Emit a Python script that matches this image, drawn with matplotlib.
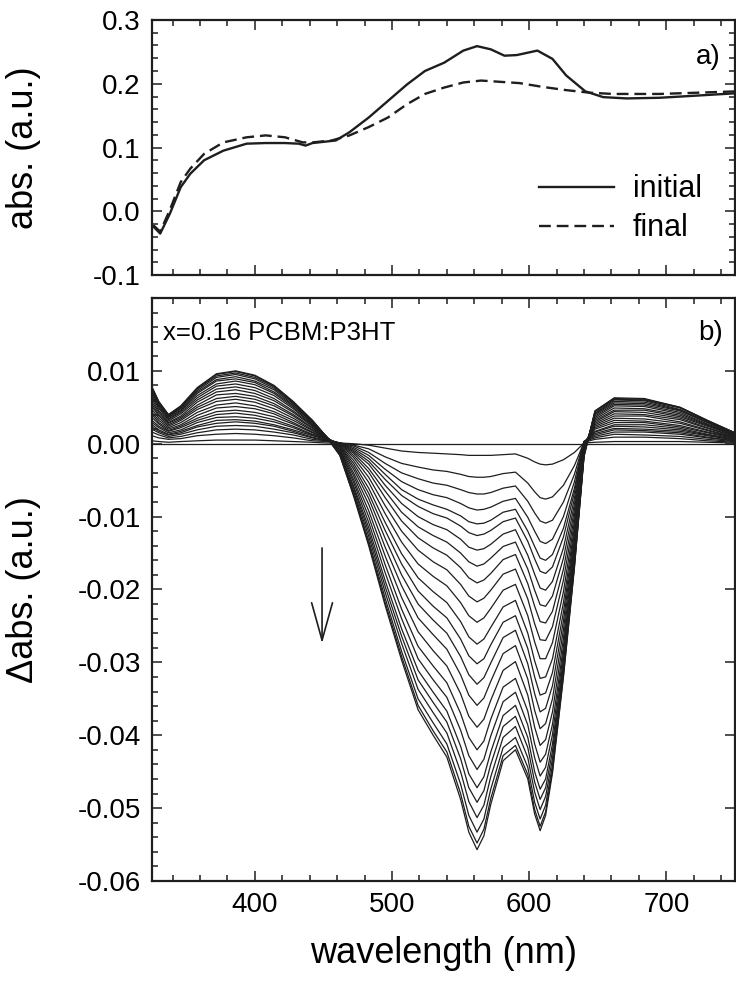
import numpy as np
import matplotlib.pyplot as plt
from matplotlib.ticker import MultipleLocator, FormatStrFormatter
from matplotlib.patches import FancyArrowPatch

plt.rcParams['font.family'] = ['Liberation Sans', 'DejaVu Sans']
plt.rcParams['axes.unicode_minus'] = False

# a) absorbance of the film, before and after
wl_init = [326, 331, 338, 346, 353, 363, 377, 394, 408, 422, 432, 437, 442, 459, 469,
           483, 497, 511, 524, 538, 552, 562, 572, 582, 591, 606, 617, 627, 641, 654,
           671, 695, 719, 750]
abs_init = [-0.024, -0.035, -0.004, 0.038, 0.059, 0.080, 0.095, 0.106, 0.107, 0.107,
            0.106, 0.103, 0.107, 0.111, 0.124, 0.147, 0.173, 0.199, 0.220, 0.233,
            0.252, 0.259, 0.254, 0.244, 0.245, 0.252, 0.239, 0.213, 0.188, 0.179,
            0.177, 0.178, 0.181, 0.185]
wl_final = [326, 331, 338, 346, 353, 363, 377, 394, 408, 422, 435, 442, 456, 469, 483,
            497, 511, 524, 538, 552, 565, 579, 593, 610, 627, 644, 661, 695, 723, 750]
abs_final = [-0.022, -0.032, 0.002, 0.046, 0.067, 0.090, 0.108, 0.116, 0.119, 0.116,
             0.108, 0.108, 0.111, 0.119, 0.132, 0.147, 0.168, 0.184, 0.194, 0.202,
             0.205, 0.203, 0.201, 0.195, 0.190, 0.186, 0.184, 0.184, 0.186, 0.188]

# b) difference spectra, one row per wavelength, one column per scan (in 1e-3)
wl_diff = [325, 330, 337, 346, 358, 372, 386, 400, 414, 428, 442, 452, 462, 472, 483,
           495, 507, 519, 530, 540, 550, 556, 562, 567, 572, 581, 590, 599, 604, 608,
           612, 617, 625, 633, 640, 648, 662, 684, 710, 730, 750]
dabs_mabs = [
    [0.4, 1.1, 1.6, 2.0, 2.3, 2.6, 2.9, 3.2, 3.6, 4.0, 4.3, 4.7, 5.1, 5.4, 5.7, 6.1, 6.4, 6.7, 7.0, 7.2, 7.4, 7.6, 7.7, 7.8],
    [0.3, 0.8, 1.2, 1.5, 1.7, 1.9, 2.2, 2.4, 2.7, 2.9, 3.2, 3.5, 3.8, 4.0, 4.3, 4.5, 4.8, 5.0, 5.2, 5.3, 5.5, 5.6, 5.7, 5.8],
    [0.2, 0.6, 0.8, 1.0, 1.2, 1.3, 1.5, 1.7, 1.8, 2.0, 2.2, 2.4, 2.6, 2.8, 2.9, 3.1, 3.3, 3.4, 3.6, 3.7, 3.8, 3.9, 4.0, 4.0],
    [0.3, 0.7, 1.0, 1.3, 1.5, 1.7, 1.9, 2.2, 2.4, 2.6, 2.9, 3.2, 3.4, 3.6, 3.8, 4.1, 4.3, 4.5, 4.6, 4.8, 4.9, 5.0, 5.1, 5.2],
    [0.4, 1.1, 1.5, 1.9, 2.3, 2.5, 2.9, 3.2, 3.5, 3.9, 4.3, 4.7, 5.0, 5.3, 5.7, 6.0, 6.3, 6.6, 6.9, 7.1, 7.3, 7.5, 7.6, 7.7],
    [0.5, 1.3, 1.9, 2.4, 2.8, 3.2, 3.6, 4.0, 4.4, 4.9, 5.3, 5.8, 6.2, 6.7, 7.1, 7.5, 7.9, 8.2, 8.6, 8.8, 9.1, 9.3, 9.5, 9.6],
    [0.5, 1.4, 2.0, 2.5, 3.0, 3.3, 3.7, 4.2, 4.6, 5.1, 5.6, 6.1, 6.5, 6.9, 7.4, 7.8, 8.2, 8.6, 8.9, 9.2, 9.5, 9.7, 9.9, 10.0],
    [0.5, 1.3, 1.9, 2.4, 2.8, 3.1, 3.5, 3.9, 4.3, 4.8, 5.2, 5.7, 6.1, 6.5, 6.9, 7.3, 7.7, 8.1, 8.4, 8.6, 8.9, 9.1, 9.3, 9.4],
    [0.4, 1.1, 1.6, 2.0, 2.4, 2.6, 3.0, 3.3, 3.7, 4.1, 4.4, 4.8, 5.2, 5.5, 5.9, 6.2, 6.6, 6.9, 7.1, 7.4, 7.6, 7.8, 7.9, 8.0],
    [0.3, 0.8, 1.2, 1.5, 1.7, 1.9, 2.2, 2.4, 2.7, 2.9, 3.2, 3.5, 3.8, 4.0, 4.3, 4.5, 4.8, 5.0, 5.2, 5.3, 5.5, 5.6, 5.7, 5.8],
    [0.2, 0.4, 0.6, 0.8, 0.9, 1.1, 1.2, 1.3, 1.5, 1.6, 1.8, 1.9, 2.1, 2.2, 2.4, 2.5, 2.6, 2.7, 2.9, 2.9, 3.0, 3.1, 3.2, 3.2],
    [0.1, 0.3, 0.4, 0.4, 0.5, 0.6, 0.6, 0.7, 0.7, 0.8, 0.8, 0.9, 0.9, 0.9, 0.9, 1.0, 1.0, 1.0, 1.0, 1.0, 1.0, 1.0, 1.0, 1.0],
    [0.1, 0.1, 0.1, 0.1, 0.1, 0.1, 0.1, 0.0, 0.0, -0.1, -0.2, -0.3, -0.4, -0.5, -0.6, -0.8, -0.9, -1.0, -1.2, -1.3, -1.4, -1.5, -1.6, -1.6],
    [0.0, -0.2, -0.3, -0.5, -0.7, -0.9, -1.1, -1.3, -1.6, -1.9, -2.3, -2.7, -3.1, -3.5, -4.0, -4.4, -4.9, -5.3, -5.8, -6.1, -6.5, -6.8, -7.0, -7.2],
    [-0.2, -0.7, -1.2, -1.6, -2.0, -2.4, -2.8, -3.4, -3.9, -4.6, -5.3, -6.1, -6.8, -7.5, -8.3, -9.2, -10.0, -10.8, -11.5, -12.1, -12.7, -13.3, -13.7, -14.0],
    [-0.6, -1.8, -2.7, -3.5, -4.2, -4.9, -5.7, -6.5, -7.4, -8.5, -9.6, -10.8, -11.9, -13.0, -14.2, -15.4, -16.6, -17.7, -18.8, -19.6, -20.4, -21.2, -21.8, -22.2],
    [-1.0, -2.7, -4.0, -5.2, -6.3, -7.1, -8.2, -9.4, -10.6, -12.0, -13.5, -15.1, -16.5, -18.0, -19.5, -21.1, -22.7, -24.0, -25.4, -26.4, -27.4, -28.5, -29.2, -29.7],
    [-1.2, -3.2, -4.8, -6.3, -7.6, -8.6, -10.0, -11.4, -12.9, -14.6, -16.5, -18.4, -20.2, -22.0, -23.9, -25.8, -27.8, -29.5, -31.1, -32.4, -33.7, -35.0, -35.9, -36.5],
    [-1.3, -3.6, -5.4, -7.0, -8.4, -9.6, -11.1, -12.6, -14.3, -16.2, -18.2, -20.3, -22.3, -24.2, -26.2, -28.4, -30.5, -32.4, -34.1, -35.5, -36.9, -38.3, -39.4, -40.0],
    [-1.4, -3.8, -5.7, -7.4, -9.0, -10.2, -11.8, -13.5, -15.3, -17.3, -19.5, -21.8, -23.9, -26.0, -28.2, -30.5, -32.8, -34.8, -36.7, -38.2, -39.7, -41.2, -42.3, -43.0],
    [-1.5, -4.2, -6.3, -8.2, -9.9, -11.3, -13.1, -15.0, -17.0, -19.3, -21.8, -24.4, -26.8, -29.2, -31.7, -34.3, -37.0, -39.3, -41.5, -43.2, -45.0, -46.7, -48.0, -48.8],
    [-1.6, -4.5, -6.7, -8.8, -10.7, -12.2, -14.2, -16.2, -18.4, -20.9, -23.6, -26.5, -29.1, -31.7, -34.5, -37.4, -40.3, -42.8, -45.3, -47.2, -49.1, -51.0, -52.5, -53.3],
    [-1.6, -4.6, -6.9, -9.1, -11.0, -12.6, -14.6, -16.8, -19.1, -21.7, -24.5, -27.5, -30.2, -33.0, -35.9, -38.9, -42.0, -44.7, -47.2, -49.2, -51.3, -53.3, -54.8, -55.7],
    [-1.6, -4.6, -6.9, -9.0, -10.9, -12.4, -14.4, -16.5, -18.7, -21.2, -23.9, -26.8, -29.5, -32.1, -34.9, -37.8, -40.8, -43.3, -45.7, -47.6, -49.6, -51.5, -52.9, -53.8],
    [-1.6, -4.5, -6.7, -8.7, -10.5, -11.9, -13.8, -15.7, -17.8, -20.1, -22.6, -25.2, -27.6, -30.1, -32.6, -35.2, -37.8, -40.1, -42.3, -44.0, -45.7, -47.4, -48.7, -49.5],
    [-1.5, -4.1, -6.1, -7.9, -9.4, -10.7, -12.4, -14.1, -15.9, -17.9, -20.1, -22.4, -24.5, -26.6, -28.8, -31.1, -33.4, -35.4, -37.3, -38.8, -40.3, -41.7, -42.8, -43.5],
    [-1.4, -3.9, -5.8, -7.5, -9.0, -10.2, -11.8, -13.5, -15.2, -17.2, -19.3, -21.5, -23.6, -25.6, -27.7, -29.9, -32.2, -34.1, -35.9, -37.4, -38.8, -40.3, -41.4, -42.0],
    [-2.0, -5.4, -7.9, -10.1, -12.0, -13.4, -15.3, -17.2, -19.2, -21.3, -23.6, -26.0, -28.1, -30.2, -32.3, -34.5, -36.7, -38.6, -40.3, -41.7, -43.1, -44.4, -45.4, -46.0],
    [-2.5, -6.6, -9.5, -12.0, -14.1, -15.8, -17.9, -20.1, -22.3, -24.7, -27.2, -29.8, -32.0, -34.3, -36.6, -38.9, -41.2, -43.1, -45.0, -46.4, -47.8, -49.2, -50.2, -50.8],
    [-2.8, -7.4, -10.6, -13.4, -15.7, -17.5, -19.8, -22.1, -24.4, -26.9, -29.5, -32.2, -34.5, -36.8, -39.1, -41.4, -43.7, -45.6, -47.4, -48.8, -50.2, -51.5, -52.5, -53.1],
    [-2.9, -7.6, -10.9, -13.7, -16.0, -17.8, -20.1, -22.3, -24.6, -27.0, -29.5, -32.0, -34.2, -36.3, -38.4, -40.6, -42.6, -44.4, -46.0, -47.2, -48.4, -49.6, -50.5, -51.0],
    [-2.8, -7.3, -10.5, -13.1, -15.2, -16.9, -18.9, -20.9, -23.0, -25.1, -27.3, -29.5, -31.4, -33.2, -35.0, -36.8, -38.5, -39.9, -41.2, -42.2, -43.2, -44.1, -44.8, -45.2],
    [-2.2, -5.7, -8.0, -10.0, -11.6, -12.8, -14.3, -15.7, -17.2, -18.7, -20.3, -21.8, -23.1, -24.3, -25.5, -26.7, -27.8, -28.7, -29.5, -30.2, -30.8, -31.3, -31.8, -32.0],
    [-1.2, -3.0, -4.2, -5.2, -6.1, -6.7, -7.5, -8.3, -9.1, -9.9, -10.7, -11.5, -12.2, -12.9, -13.5, -14.1, -14.7, -15.2, -15.7, -16.0, -16.3, -16.6, -16.9, -17.0],
    [0.1, 0.2, 0.3, 0.3, 0.3, 0.3, 0.2, 0.2, 0.1, 0.0, -0.1, -0.2, -0.3, -0.4, -0.6, -0.8, -0.9, -1.1, -1.2, -1.4, -1.5, -1.6, -1.7, -1.8],
    [0.2, 0.6, 0.8, 1.0, 1.2, 1.4, 1.6, 1.7, 2.0, 2.2, 2.4, 2.6, 2.8, 3.0, 3.2, 3.4, 3.6, 3.8, 4.0, 4.1, 4.2, 4.4, 4.5, 4.5],
    [0.3, 0.9, 1.3, 1.6, 1.9, 2.1, 2.4, 2.6, 2.9, 3.2, 3.5, 3.8, 4.1, 4.4, 4.6, 4.9, 5.2, 5.4, 5.6, 5.8, 6.0, 6.1, 6.2, 6.3],
    [0.3, 0.9, 1.2, 1.6, 1.8, 2.0, 2.3, 2.6, 2.9, 3.1, 3.4, 3.8, 4.0, 4.3, 4.6, 4.8, 5.1, 5.3, 5.5, 5.7, 5.9, 6.0, 6.1, 6.2],
    [0.3, 0.7, 1.0, 1.3, 1.5, 1.7, 1.9, 2.1, 2.3, 2.5, 2.8, 3.0, 3.3, 3.5, 3.7, 3.9, 4.1, 4.3, 4.5, 4.6, 4.7, 4.9, 5.0, 5.0],
    [0.2, 0.4, 0.6, 0.8, 0.9, 1.1, 1.2, 1.3, 1.5, 1.6, 1.8, 1.9, 2.1, 2.2, 2.4, 2.5, 2.6, 2.7, 2.9, 2.9, 3.0, 3.1, 3.2, 3.2],
    [0.1, 0.2, 0.3, 0.4, 0.4, 0.5, 0.6, 0.6, 0.7, 0.8, 0.8, 0.9, 1.0, 1.0, 1.1, 1.2, 1.2, 1.3, 1.3, 1.4, 1.4, 1.5, 1.5, 1.5],
]

# arrow marking the time direction (data coords of panel b)
arrow_x = 449
arrow_y0, arrow_y1 = -0.0143, -0.0274

ink = '#1e1e1e'

fig = plt.figure(figsize=(7.36, 9.85), dpi=100)
ax1 = fig.add_axes([0.2065, 0.7208, 0.792, 0.2589])
ax2 = fig.add_axes([0.2065, 0.1056, 0.792, 0.5919])

# --- panel a
l_init, = ax1.plot(wl_init, abs_init, color=ink, lw=1.7, label='initial')
l_final, = ax1.plot(wl_final, abs_final, color=ink, lw=1.7, dashes=(5, 2.5), label='final')
ax1.set_xlim(325, 750)
ax1.set_ylim(-0.1, 0.3)
ax1.yaxis.set_major_locator(MultipleLocator(0.1))
ax1.yaxis.set_minor_locator(MultipleLocator(0.02))
ax1.yaxis.set_major_formatter(FormatStrFormatter('%.1f'))
ax1.set_ylabel('abs. (a.u.)', fontsize=26)
ax1.tick_params(labelbottom=False)
ax1.legend(handles=[l_init, l_final], loc='lower right', bbox_to_anchor=(0.943, 0.124),
           frameon=False, fontsize=22, handlelength=2.45, handletextpad=0.6,
           labelspacing=0.3, borderaxespad=0, borderpad=0)
ax1.text(0.975, 0.855, 'a)', transform=ax1.transAxes, ha='right', va='center', fontsize=20)

# --- panel b
ax2.axhline(0, color=ink, lw=0.9)
dabs = np.array(dabs_mabs).T * 1e-3
for scan in dabs:
    ax2.plot(wl_diff, scan, color=ink, lw=0.9)
ax2.set_xlim(325, 750)
ax2.set_ylim(-0.06, 0.02)
ax2.set_yticks(np.arange(-0.06, 0.0101, 0.01))
ax2.yaxis.set_minor_locator(MultipleLocator(0.002))
ax2.yaxis.set_major_formatter(FormatStrFormatter('%.2f'))
ax2.set_xlabel('wavelength (nm)', fontsize=26, labelpad=13)
ax2.set_ylabel('\u0394abs. (a.u.)', fontsize=26)
ax2.text(0.019, 0.94, 'x=0.16 PCBM:P3HT', transform=ax2.transAxes, ha='left', va='center',
         fontsize=18.5)
ax2.text(0.979, 0.94, 'b)', transform=ax2.transAxes, ha='right', va='center', fontsize=20)
ax2.add_patch(FancyArrowPatch((arrow_x, arrow_y0), (arrow_x, arrow_y1),
                              arrowstyle='->,head_length=2.7,head_width=0.75',
                              mutation_scale=10, lw=1.2, color=ink, shrinkA=0, shrinkB=0))

for ax in (ax1, ax2):
    ax.xaxis.set_major_locator(MultipleLocator(100))
    ax.xaxis.set_minor_locator(MultipleLocator(20))
    ax.tick_params(which='both', direction='in', top=True, right=True, width=1.1,
                   labelsize=20, pad=8, color=ink)
    ax.tick_params(which='major', length=7)
    ax.tick_params(which='minor', length=4)
    for s in ax.spines.values():
        s.set_linewidth(1.6)
        s.set_color(ink)
    ax.yaxis.set_label_coords(-0.19, 0.5)
ax2.tick_params(which='minor', right=False)

fig.savefig('out.png', dpi=100)
